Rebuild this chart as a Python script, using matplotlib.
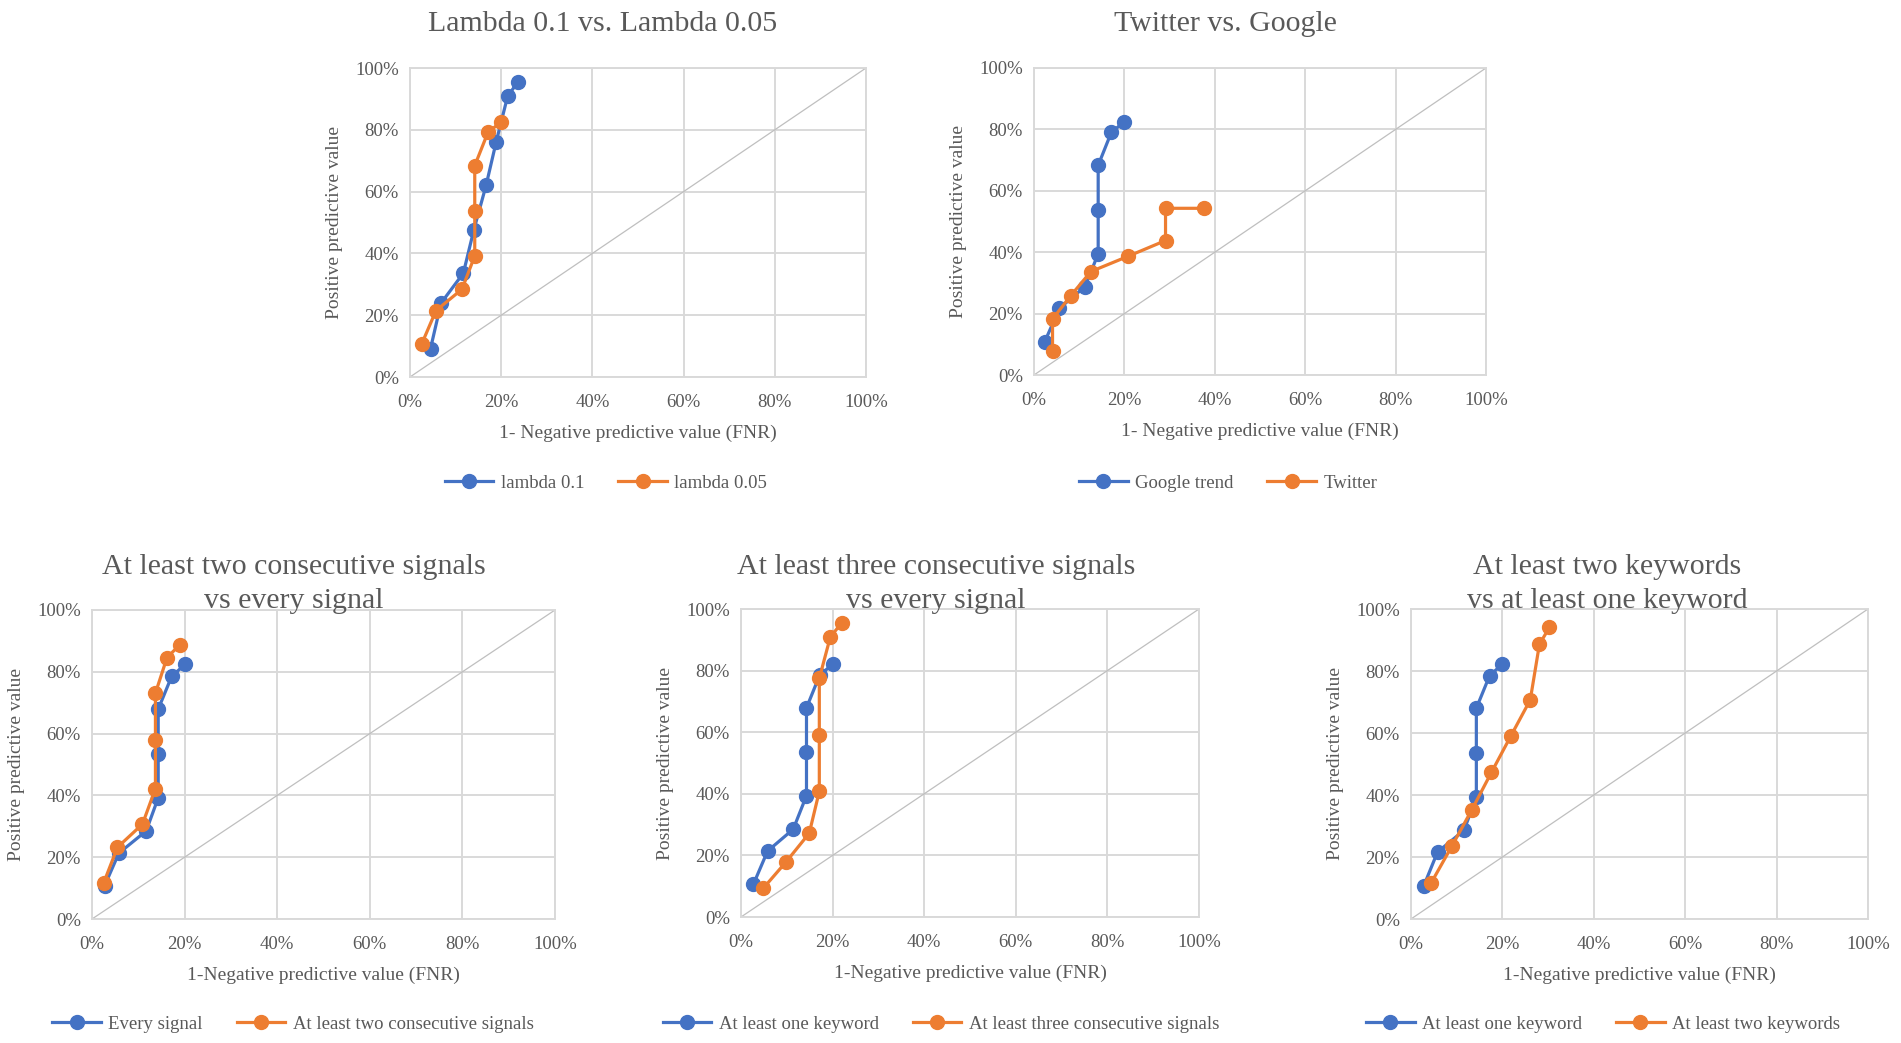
import matplotlib.pyplot as plt
from matplotlib.ticker import PercentFormatter

W, H = 1901, 1043

# panel data (x = 1-NPV, y = PPV)
lam01_x = [0.045, 0.068, 0.117, 0.140, 0.167, 0.189, 0.214, 0.237]
lam01_y = [0.092, 0.239, 0.336, 0.476, 0.621, 0.761, 0.908, 0.956]
lam005_x = [0.026, 0.057, 0.114, 0.142, 0.142, 0.142, 0.171, 0.199]
lam005_y = [0.108, 0.215, 0.284, 0.392, 0.538, 0.684, 0.792, 0.824]

google_x = [0.024, 0.056, 0.113, 0.142, 0.142, 0.142, 0.171, 0.199]
google_y = [0.109, 0.217, 0.288, 0.395, 0.538, 0.683, 0.790, 0.824]
twitter_x = [0.041, 0.041, 0.081, 0.126, 0.207, 0.291, 0.291, 0.376]
twitter_y = [0.079, 0.182, 0.258, 0.337, 0.386, 0.438, 0.543, 0.543]

every_x = [0.027, 0.058, 0.117, 0.143, 0.143, 0.143, 0.172, 0.201]
every_y = [0.107, 0.213, 0.285, 0.392, 0.535, 0.679, 0.785, 0.824]
two_cons_x = [0.025, 0.055, 0.109, 0.137, 0.137, 0.137, 0.162, 0.190]
two_cons_y = [0.116, 0.232, 0.307, 0.422, 0.579, 0.731, 0.846, 0.888]

one_kw_x = [0.027, 0.058, 0.114, 0.143, 0.143, 0.143, 0.172, 0.200]
one_kw_y = [0.106, 0.214, 0.285, 0.394, 0.535, 0.679, 0.786, 0.820]
three_cons_x = [0.049, 0.099, 0.149, 0.171, 0.171, 0.171, 0.195, 0.220]
three_cons_y = [0.094, 0.180, 0.272, 0.408, 0.591, 0.775, 0.909, 0.955]

one_kw2_x = [0.028, 0.058, 0.116, 0.143, 0.143, 0.143, 0.172, 0.200]
one_kw2_y = [0.107, 0.216, 0.286, 0.394, 0.535, 0.680, 0.785, 0.822]
two_kw_x = [0.044, 0.089, 0.133, 0.176, 0.218, 0.261, 0.281, 0.303]
two_kw_y = [0.116, 0.234, 0.352, 0.473, 0.589, 0.707, 0.886, 0.941]

BLUE = '#4472C4'
ORANGE = '#ED7D31'
GRAY = '#595959'

plt.rcParams['font.family'] = ['Liberation Serif', 'DejaVu Serif']

fig = plt.figure(figsize=(W / 100, H / 100), dpi=100)


def make_panel(box, title, title_xy, xlabel, s1, s2, legend_xy):
    left, right, top, bottom = box
    ax = fig.add_axes([left / W, 1 - bottom / H, (right - left) / W, (bottom - top) / H])
    ax.set_xlim(0, 1)
    ax.set_ylim(0, 1)
    ticks = [0, 0.2, 0.4, 0.6, 0.8, 1.0]
    ax.set_xticks(ticks)
    ax.set_yticks(ticks)
    ax.xaxis.set_major_formatter(PercentFormatter(1.0, decimals=0))
    ax.yaxis.set_major_formatter(PercentFormatter(1.0, decimals=0))
    ax.tick_params(length=0, labelsize=13.5, colors=GRAY)
    ax.tick_params(axis='x', pad=12)
    ax.tick_params(axis='y', pad=8)
    ax.grid(True, color='#D9D9D9', linewidth=1.4)
    for sp in ax.spines.values():
        sp.set_color('#D9D9D9')
        sp.set_linewidth(1.4)
    ax.set_axisbelow(True)

    ax.plot([0, 1], [0, 1], color='#BFBFBF', linewidth=0.9, zorder=2)
    l1, = ax.plot(s1[0], s1[1], color=BLUE, linewidth=2.3, marker='o',
                  markersize=10, label=s1[2], zorder=3)
    l2, = ax.plot(s2[0], s2[1], color=ORANGE, linewidth=2.3, marker='o',
                  markersize=10, label=s2[2], zorder=4)

    ax.set_xlabel(xlabel, fontsize=14, color=GRAY, labelpad=10)
    ax.set_ylabel('Positive predictive value', fontsize=14, color=GRAY, labelpad=9)

    fig.text(title_xy[0] / W, 1 - title_xy[1] / H, title, ha='center', va='center',
             fontsize=21.5, color=GRAY, linespacing=1.4)

    fig.legend(handles=[l1, l2], loc='center', ncol=2, frameon=False,
               bbox_to_anchor=(legend_xy[0] / W, 1 - legend_xy[1] / H),
               fontsize=13.5, labelcolor=GRAY, handlelength=2.6, columnspacing=1.8,
               handletextpad=0.4)
    return ax


make_panel((410, 866, 68, 377), 'Lambda 0.1 vs. Lambda 0.05', (603, 24),
           '1- Negative predictive value (FNR)',
           (lam01_x, lam01_y, 'lambda 0.1'), (lam005_x, lam005_y, 'lambda 0.05'),
           (606, 483))

make_panel((1034, 1486, 68, 375), 'Twitter vs. Google', (1225, 24),
           '1- Negative predictive value (FNR)',
           (google_x, google_y, 'Google trend'), (twitter_x, twitter_y, 'Twitter'),
           (1228, 483))

make_panel((92, 555, 610, 919), 'At least two consecutive signals\nvs every signal', (294, 584),
           '1-Negative predictive value (FNR)',
           (every_x, every_y, 'Every signal'),
           (two_cons_x, two_cons_y, 'At least two consecutive signals'),
           (293, 1024))

make_panel((741, 1199, 609, 917), 'At least three consecutive signals\nvs every signal', (936, 584),
           '1-Negative predictive value (FNR)',
           (one_kw_x, one_kw_y, 'At least one keyword'),
           (three_cons_x, three_cons_y, 'At least three consecutive signals'),
           (941, 1024))

make_panel((1411, 1868, 609, 919), 'At least two keywords\nvs at least one keyword', (1607, 584),
           '1-Negative predictive value (FNR)',
           (one_kw2_x, one_kw2_y, 'At least one keyword'),
           (two_kw_x, two_kw_y, 'At least two keywords'),
           (1603, 1024))

fig.savefig('out.png', dpi=100)
